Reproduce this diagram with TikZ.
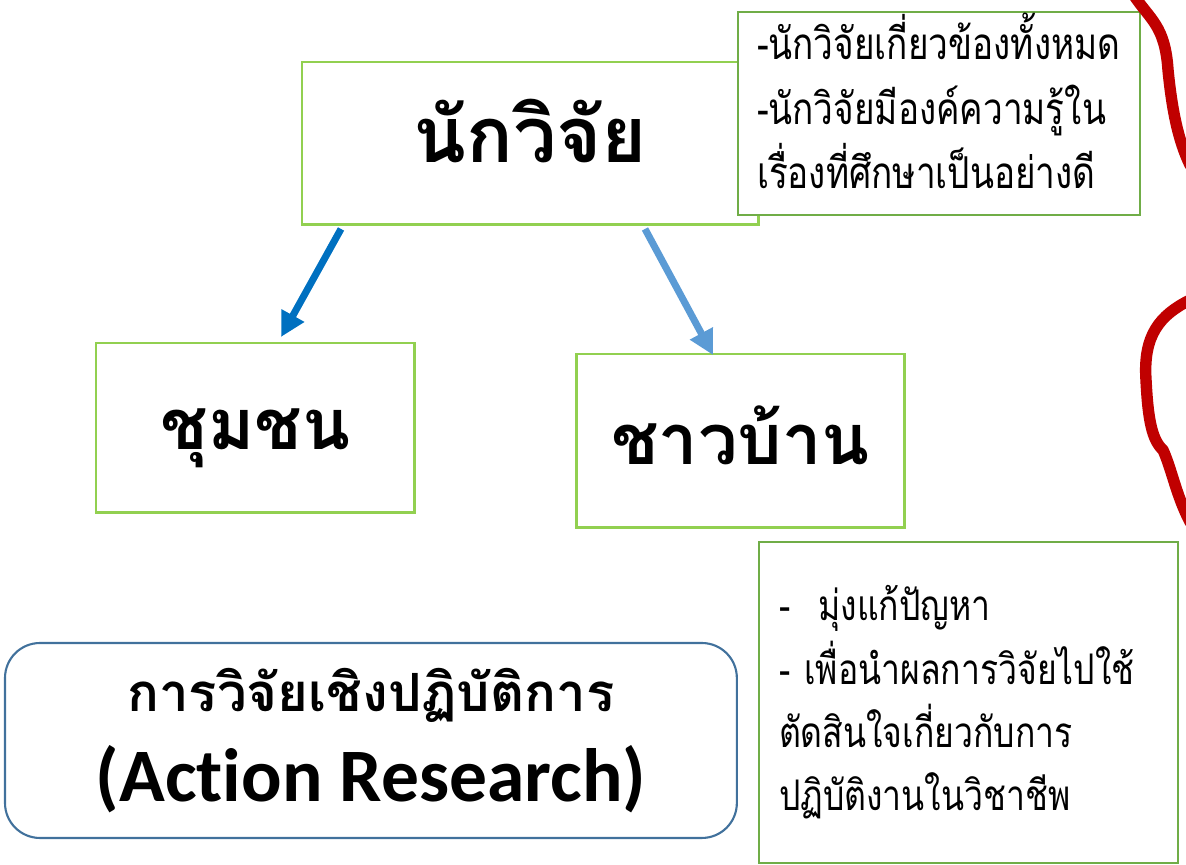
\documentclass[tikz,border=0pt]{standalone}
\usepackage{fontspec}
\newfontfamily\thaifont[Script=Thai]{Loma}
\newfontfamily\thainarrow[Script=Thai,FakeStretch=0.8]{Loma}
\newfontfamily\latinfont[Ligatures=NoCommon]{Carlito}
\usetikzlibrary{arrows.meta,calc}
\definecolor{boxgreen}{HTML}{92D050}
\definecolor{notegreen}{HTML}{70AD47}
\definecolor{darkblue}{HTML}{0070C0}
\definecolor{lightblue}{HTML}{5B9BD5}
\definecolor{steelblue}{HTML}{41719C}
\definecolor{scribblered}{HTML}{C00000}

\begin{document}
\begin{tikzpicture}[x=0.02cm,y=-0.02cm]
\tikzstyle{box} = [draw=boxgreen, line width=1.7pt, fill=white, anchor=north west, outer sep=0pt, font=\thaifont\bfseries]
\tikzstyle{note} = [draw=notegreen, line width=1.4pt, fill=white, anchor=north west, outer sep=0pt, align=left, inner xsep=0.38cm]
\tikzstyle{link} = [line width=4pt, -{Triangle[length=14pt,width=14pt]}]
\tikzstyle{scribble} = [draw=scribblered, line width=6.5pt, line cap=round, line join=round]

\useasboundingbox (0,0) rectangle (1186,865);

\node[box, minimum width=9.14cm, minimum height=3.26cm, font=\thaifont\bfseries\fontsize{44}{50}\selectfont] (res) at (302,62)
  {\raisebox{-11pt}[0pt][0pt]{นักวิจัย}};
\node[note, minimum width=8.04cm, minimum height=4.06cm, text width=7.28cm, text height=0pt, text depth=61pt,
  font=\thainarrow\fontsize{25}{36.5}\selectfont] (note1) at (738,12)
  {\mbox{-นักวิจัยเกี่ยวข้องทั้งหมด}\\\mbox{-นักวิจัยมีองค์ความรู้ใน}\\\mbox{เรื่องที่ศึกษาเป็นอย่างดี}};
\node[box, minimum width=6.38cm, minimum height=3.4cm, font=\thaifont\bfseries\fontsize{40}{46}\selectfont] (com) at (96,343)
  {\raisebox{-12.5pt}[0pt][0pt]{ชุมชน}};
\node[box, minimum width=6.58cm, minimum height=3.48cm, font=\thaifont\bfseries\fontsize{40}{46}\selectfont] (vil) at (576,354)
  {\raisebox{-13.5pt}[0pt][0pt]{ชาวบ้าน}};
\node[note, minimum width=8.38cm, minimum height=6.42cm, text width=7.58cm, font=\thainarrow\fontsize{24}{36}\selectfont] (note2) at (759,542)
  {\mbox{-~~มุ่งแก้ปัญหา}\\\mbox{- เพื่อนำผลการวิจัยไปใช้}\\\mbox{ตัดสินใจเกี่ยวกับการ}\\\mbox{ปฏิบัติงานในวิชาชีพ}};
\node[draw=steelblue, line width=1.2pt, rounded corners=0.7cm, anchor=north west, outer sep=0pt,
  minimum width=14.64cm, minimum height=3.9cm, align=center] (act) at (5,643)
  {{\thaifont\bfseries\fontsize{30}{40}\selectfont การวิจัยเชิงปฏิบัติการ}\\[12pt]
   {\latinfont\bfseries\fontsize{43}{50}\selectfont (Action Research)}};

\draw[link, darkblue] ($(res.south west)+(39,4)$) -- ($(com.north west)+(185,-6)$);
\draw[link, lightblue] ($(res.south west)+(343,4)$) -- ($(vil.north west)+(137,1)$);

% scribbles at the right edge
\draw[scribble] (1133,-6) .. controls (1150,20) and (1165,25) .. (1168,70)
  .. controls (1172,110) and (1178,140) .. (1190,165);
\draw[scribble] (1190,300) .. controls (1160,315) and (1143,335) .. (1146,380)
  .. controls (1148,420) and (1152,440) .. (1163,450)
  .. controls (1172,470) and (1176,495) .. (1190,522);
\end{tikzpicture}
\end{document}
